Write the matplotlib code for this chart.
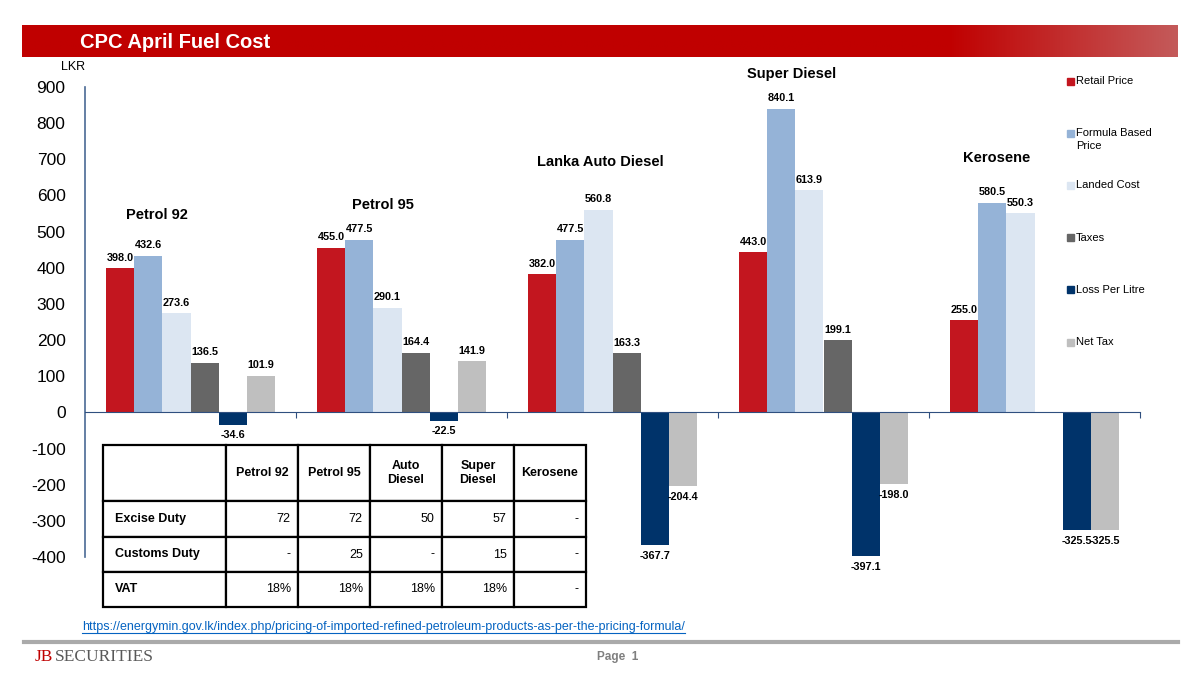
import matplotlib
matplotlib.use("Agg")
import matplotlib.pyplot as plt
from matplotlib.patches import Rectangle
from matplotlib.lines import Line2D
import numpy as np

plt.rcParams["font.family"] = ["Liberation Sans", "DejaVu Sans"]
plt.rcParams["axes.unicode_minus"] = False

# data
fuels = ["Petrol 92", "Petrol 95", "Lanka Auto Diesel", "Super Diesel", "Kerosene"]
series = ["Retail Price", "Formula Based\nPrice", "Landed Cost", "Taxes", "Loss Per Litre", "Net Tax"]
retail = [398.0, 455.0, 382.0, 443.0, 255.0]
formula = [432.6, 477.5, 477.5, 840.1, 580.5]
landed = [273.6, 290.1, 560.8, 613.9, 550.3]
taxes = [136.5, 164.4, 163.3, 199.1, np.nan]
loss = [-34.6, -22.5, -367.7, -397.1, -325.5]
net_tax = [101.9, 141.9, -204.4, -198.0, -325.5]
colors = ["#C3161F", "#95B3D7", "#DCE6F2", "#666666", "#00336A", "#BFBFBF"]

# hand placed category captions (x offset from group centre, y in LKR)
caption_pos = [(-0.16, 546), (-0.09, 573), (-0.06, 692), (-0.15, 936), (-0.18, 703)]

table_cols = ["", "Petrol 92", "Petrol 95", "Auto\nDiesel", "Super\nDiesel", "Kerosene"]
table_rows = ["Excise Duty", "Customs Duty", "VAT"]
excise = ["72", "72", "50", "57", "-"]
customs = ["-", "25", "-", "15", "-"]
vat = ["18%", "18%", "18%", "18%", "-"]

url = "https://energymin.gov.lk/index.php/pricing-of-imported-refined-petroleum-products-as-per-the-pricing-formula/"

W, H = 1200, 675
fig = plt.figure(figsize=(12, 6.75), dpi=100)


def fx(px):
    return px / W


def fy(py):
    return 1 - py / H


# header bar with gradient
hax = fig.add_axes([fx(22), fy(57), fx(1156), 32 / H])
grad = np.linspace(0, 1, 400)
start = (950 - 22) / 1156
t = np.clip((grad - start) / (1 - start), 0, 1)
c0 = np.array([192, 0, 0]) / 255
c1 = np.array([196, 90, 90]) / 255
img = (c0[None, :] * (1 - t[:, None]) + c1[None, :] * t[:, None])[None, :, :]
hax.imshow(img, aspect="auto", extent=[0, 1, 0, 1])
hax.axis("off")
fig.text(fx(80), fy(42), "CPC April Fuel Cost", color="white", fontsize=14.5,
         fontweight="bold", va="center", ha="left")

# main chart
ax = fig.add_axes([fx(85), fy(557), fx(1140 - 85), (557 - 87) / H])
ax.set_xlim(-0.5, len(fuels) - 0.5)
ax.set_ylim(-400, 900)

values = [retail, formula, landed, taxes, loss, net_tax]
w = 0.8 / len(series)
x = np.arange(len(fuels))
for i, (vals, col) in enumerate(zip(values, colors)):
    xs = x + (i - 2.5) * w
    bars = ax.bar(xs, vals, width=w, color=col, zorder=2)
    for xi, v in zip(xs, vals):
        if np.isnan(v):
            continue
        ax.annotate(f"{v:.1f}", (xi, v), xytext=(0, 4 if v >= 0 else -4),
                    textcoords="offset points", ha="center",
                    va="bottom" if v >= 0 else "top",
                    fontsize=7.8, fontweight="bold", clip_on=False)

for xi, name, (dx, yy) in zip(x, fuels, caption_pos):
    ax.text(xi + dx, yy, name, ha="center", va="center", fontsize=10.5,
            fontweight="bold", clip_on=False)

for s in ["top", "right"]:
    ax.spines[s].set_visible(False)
ax.spines["bottom"].set_position(("data", 0))
ax.spines["bottom"].set_color("#2F4F7F")
ax.spines["left"].set_color("#4A6A95")
ax.spines["left"].set_linewidth(1.2)
ax.set_yticks(np.arange(-400, 901, 100))
ax.tick_params(axis="y", length=0, pad=14, labelsize=12.5)
ax.set_xticks(np.arange(0.5, len(fuels) - 0.5 + 0.01, 1.0))
ax.set_xticklabels([])
ax.tick_params(axis="x", direction="out", length=4, color="#2F4F7F")
ax.text(0.0, 1.043, "LKR", transform=ax.transAxes, ha="right", va="center",
        fontsize=9)

# legend drawn by hand
for i, (name, col) in enumerate(zip(series, colors)):
    yy = 81 + i * 52.2
    fig.patches.append(Rectangle((fx(1067), fy(yy + 3.5)), fx(7), 7 / H,
                                 transform=fig.transFigure, color=col))
    fig.text(fx(1076), fy(yy - 5), name, fontsize=8, va="top", ha="left",
             linespacing=1.3)

# duty table
tax_ax = fig.add_axes([fx(103), fy(607), fx(586 - 103), (607 - 445) / H])
tax_ax.axis("off")
cells = [[r] + vals for r, vals in zip(table_rows, [excise, customs, vat])]
tbl = tax_ax.table(cellText=[table_cols] + cells, bbox=[0, 0, 1, 1],
                   cellLoc="right")
tbl.auto_set_font_size(False)
tbl.set_fontsize(9)
col_w = [123, 72, 72, 72, 72, 72]
row_h = [56, 36, 35, 35]
for (r, c), cell in tbl.get_celld().items():
    cell.set_width(col_w[c])
    cell.set_height(row_h[r])
    cell.set_linewidth(1.6)
    cell.set_edgecolor("black")
    txt = cell.get_text()
    if r == 0:
        txt.set_fontweight("bold")
        cell._loc = "center"
        txt.set_ha("center")
    elif c == 0:
        txt.set_fontweight("bold")
        cell._loc = "left"
        txt.set_ha("left")

# footer
url_txt = fig.text(fx(82), fy(627), url, color="#0563C1", fontsize=9,
                   va="center", ha="left")
fig.canvas.draw()
bb = url_txt.get_window_extent()
fig.add_artist(Line2D([bb.x0 / W, bb.x1 / W], [fy(633), fy(633)],
                      transform=fig.transFigure, color="#0563C1", lw=0.8))
fig.add_artist(Line2D([fx(24), fx(1178)], [fy(642), fy(642)],
                      transform=fig.transFigure, color="#AAAAAA", lw=3))
fig.text(fx(35), fy(657), "JB", color="#C00000", fontsize=12.5,
         family="Liberation Serif", va="center", ha="left")
fig.text(fx(55), fy(657), "SECURITIES", color="#595959", fontsize=12.5,
         family="Liberation Serif", va="center", ha="left")
fig.text(fx(597), fy(657), "Page  1", color="#7F7F7F", fontsize=8.5,
         fontweight="bold", va="center", ha="left")

fig.savefig("out.png", dpi=100)
